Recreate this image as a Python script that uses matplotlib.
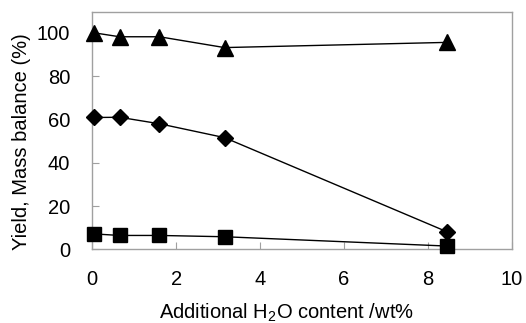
import matplotlib
matplotlib.use("Agg")
import matplotlib.pyplot as plt

plt.rcParams['font.family'] = ['Liberation Sans', 'DejaVu Sans']
plt.rcParams['mathtext.fontset'] = 'custom'
plt.rcParams['mathtext.rm'] = 'Liberation Sans'

water = [0.05, 0.65, 1.6, 3.15, 8.45]
mass_balance = [100.0, 98.2, 98.2, 93.2, 95.6]
yield_a = [60.9, 61.0, 58.0, 51.6, 8.1]
yield_b = [7.1, 6.4, 6.4, 5.8, 1.5]
xticks = [0, 2, 4, 6, 8, 10]
yticks = [0, 20, 40, 60, 80, 100]

W, H = 526, 323
fig = plt.figure(figsize=(W/100, H/100), dpi=100)
x0, x1, ytop, ybot = 92.3, 512.0, 12.3, 249.3
ax = fig.add_axes([x0/W, 1 - ybot/H, (x1 - x0)/W, (ybot - ytop)/H])

ax.plot(water, mass_balance, color='black', lw=1, marker='^', ms=11, mfc='black', mec='black', clip_on=False, zorder=3)
ax.plot(water, yield_a, color='black', lw=1, marker='D', ms=8.5, mfc='black', mec='black', clip_on=False, zorder=3)
ax.plot(water, yield_b, color='black', lw=1, marker='s', ms=9.5, mfc='black', mec='black', clip_on=False, zorder=3)

ax.set_xlim(0, 10)
ax.set_ylim(0, 109.5)
ax.set_xticks(xticks)
ax.set_yticks(yticks)
ax.tick_params(axis='x', direction='in', length=5, color='#a0a0a0', labelsize=14.5, pad=15)
ax.tick_params(axis='y', direction='in', length=5, color='#a0a0a0', labelsize=14.5, pad=16)
for s in ax.spines.values():
    s.set_color('#a0a0a0')
    s.set_linewidth(1)

ax.set_xlabel('Additional H$_2$O content /wt%', fontsize=14.5)
ax.set_ylabel('Yield, Mass balance (%)', fontsize=14.5)
ax.xaxis.label.set_va('center')
ax.yaxis.label.set_va('center')
ax.xaxis.set_label_coords((286 - x0)/(x1 - x0), (ybot - 313)/(ybot - ytop))
ax.yaxis.set_label_coords((22 - x0)/(x1 - x0), (ybot - 142)/(ybot - ytop))

fig.savefig('out.png', dpi=100)
